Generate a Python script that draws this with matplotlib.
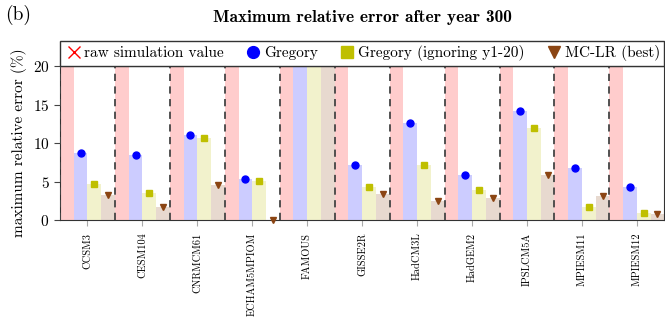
import numpy as np
import matplotlib.pyplot as plt
from matplotlib.lines import Line2D

plt.rcParams['font.family'] = ['cmr10', 'DejaVu Serif']
plt.rcParams['axes.formatter.use_mathtext'] = True

models = ['CCSM3', 'CESM104', 'CNRMCM61', 'ECHAM5MPIOM', 'FAMOUS', 'GISSE2R',
          'HadCM3L', 'HadGEM2', 'IPSLCM5A', 'MPIESM11', 'MPIESM12']
# raw simulation values are all off the top of the chart (clipped at 20)
raw = [30.0, 30.0, 30.0, 30.0, 30.0, 30.0, 30.0, 30.0, 30.0, 30.0, 30.0]
gregory = [8.7, 8.5, 11.1, 5.3, 26.0, 7.2, 12.6, 5.9, 14.2, 6.7, 4.3]
gregory_y20 = [4.7, 3.5, 10.7, 5.1, 25.0, 4.3, 7.2, 3.9, 11.9, 1.7, 0.9]
mclr = [3.2, 1.7, 4.5, 0.0, 23.0, 3.4, 2.5, 2.8, 5.9, 3.1, 0.8]

series = [
    (raw, 'red', 'x', 'raw simulation value'),
    (gregory, 'blue', 'o', 'Gregory'),
    (gregory_y20, '#bfbf00', 's', 'Gregory (ignoring y1-20)'),
    (mclr, '#8b4513', 'v', 'MC-LR (best)'),
]

fig = plt.figure(figsize=(6.65, 3.21), dpi=100)
ax = fig.add_axes([0.0902, 0.3146, 0.9088, 0.4798])

x = np.arange(len(models))
w = 0.25
ymax = 20
handles = []
for k, (vals, col, mk, lab) in enumerate(series):
    v = np.array(vals, dtype=float)
    xs = x - 0.375 + k * w
    ax.bar(xs, v, width=w, color=col, alpha=0.2, linewidth=0, zorder=1)
    shown = np.where(v <= ymax, v, np.nan)
    ms = 5 if mk != 's' else 4.6
    ax.plot(xs, shown, linestyle='none', marker=mk, color=col, markersize=ms,
            zorder=4, clip_on=False)
    handles.append(Line2D([], [], linestyle='none', marker=mk, color=col,
                          markersize=8.5 if mk != 'x' else 8, label=lab))

for b in np.arange(-0.5, len(models) - 1, 1.0):
    ax.axvline(b, color='#444444', linestyle=(0, (4, 3)), linewidth=1.3, zorder=3)

ax.set_xlim(-0.5, len(models) - 0.5)
ax.set_ylim(0, ymax)
ax.set_yticks([0, 5, 10, 15, 20])
ax.set_xticks(x)
ax.set_xticklabels(models, rotation=90, fontsize=7.5)
ax.tick_params(axis='y', labelsize=11, direction='out', length=4, color='#444444')
ax.tick_params(axis='x', direction='out', length=4, color='#aaaaaa', pad=5)
for s in ax.spines.values():
    s.set_color('#333333')
ax.set_ylabel('maximum relative error (%)', fontsize=11, labelpad=4)

leg = ax.legend(handles=handles, bbox_to_anchor=(0, 1, 1, 0.182), loc='lower left',
                mode='expand', ncol=4, borderaxespad=0, fancybox=False,
                edgecolor='#333333', framealpha=1, fontsize=11,
                handletextpad=0.1, columnspacing=1.0, handlelength=1.2,
                borderpad=0.3)
leg.get_frame().set_linewidth(1.0)

fig.text(0.5451, 0.944, 'Maximum relative error after year 300', ha='center',
         va='center', fontsize=12.5, family=['cmb10', 'DejaVu Serif'])
fig.text(0.008, 0.955, '(b)', ha='left', va='center', fontsize=14)

fig.savefig('out.png', dpi=100)
